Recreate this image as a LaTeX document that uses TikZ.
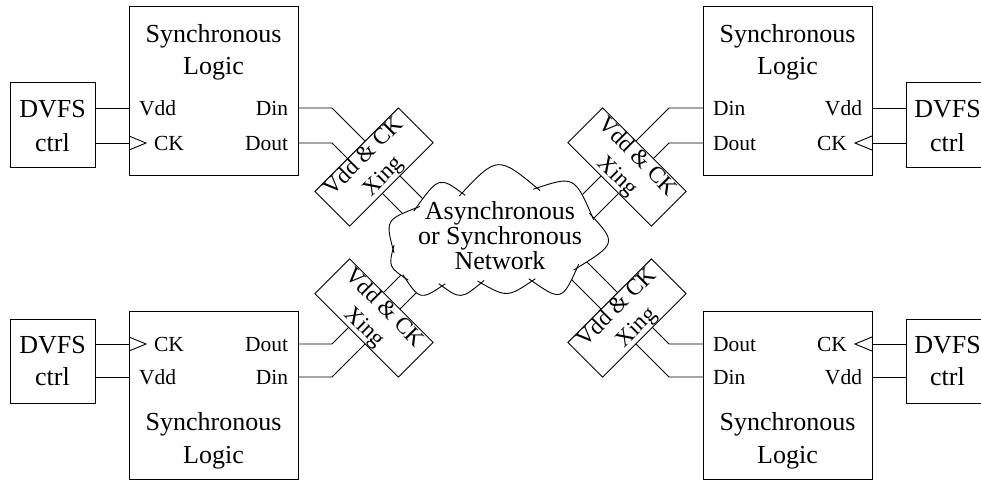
\documentclass[tikz,border=0pt]{standalone}
\usepackage{fontspec}
\setmainfont{Liberation Serif}
\usetikzlibrary{calc}

\newcommand\xinglabel{\fontsize{23}{28}\selectfont
  \begin{tabular}{@{}c@{}}Vdd \& CK\\Xing\end{tabular}}

\begin{document}
\begin{tikzpicture}[x=1pt,y=-1pt,line width=0.9pt,
  every node/.style={inner sep=0pt,outer sep=0pt},
  bigtxt/.style={font=\fontsize{26}{30}\selectfont},
  porttxt/.style={font=\fontsize{21.5}{26}\selectfont},
  logic/.style={draw,minimum width=169pt,minimum height=169pt},
  dvfs/.style={draw,minimum width=85pt,minimum height=85pt},
  xing/.style={draw,fill=white,minimum width=118pt,minimum height=49pt,
    inner ysep=-5pt},
  puffline/.style={shorten <=-4pt,shorten >=-4pt}]

\useasboundingbox (0,0) rectangle (981,480);
\clip (0,0) rectangle (981,480);

% ---------- blocks ----------
\node[logic] (L1) at (213.5,90.5) {};
\node[logic] (L2) at (787.5,90.5) {};
\node[logic,minimum height=168pt] (L3) at (213.5,395) {};
\node[logic,minimum height=168pt] (L4) at (787.5,395) {};

\node[dvfs] (D1) at (52.5,124.5) {};
\node[dvfs] (D2) at (948.5,124.5) {};
\node[dvfs,minimum height=84pt] (D3) at (52.5,361) {};
\node[dvfs,minimum height=84pt] (D4) at (948.5,361) {};

% ---------- ports ----------
\coordinate (L1vdd) at (129,108);  \coordinate (L1ck) at (129,143);
\coordinate (L1din) at (298,108);  \coordinate (L1dout) at (298,143);
\coordinate (L2vdd) at (872,108);  \coordinate (L2ck) at (872,143);
\coordinate (L2din) at (703,108);  \coordinate (L2dout) at (703,143);
\coordinate (L3ck) at (129,344);   \coordinate (L3vdd) at (129,377);
\coordinate (L3dout) at (298,344); \coordinate (L3din) at (298,377);
\coordinate (L4ck) at (872,344);   \coordinate (L4vdd) at (872,377);
\coordinate (L4dout) at (703,344); \coordinate (L4din) at (703,377);

% DVFS controller to logic block
\foreach \d/\l in {D1/L1,D3/L3}{
  \draw (\d.east |- \l vdd) -- (\l vdd);
  \draw (\d.east |- \l ck) -- (\l ck);
  \draw ($(\l ck)+(0,-7)$) -- ($(\l ck)+(17,0)$) -- ($(\l ck)+(0,7)$);
}
\foreach \d/\l in {D2/L2,D4/L4}{
  \draw (\d.west |- \l vdd) -- (\l vdd);
  \draw (\d.west |- \l ck) -- (\l ck);
  \draw ($(\l ck)+(0,-7)$) -- ($(\l ck)+(-17,0)$) -- ($(\l ck)+(0,7)$);
}

% ---------- data wires through the crossing blocks ----------
\coordinate (B1din) at (332,108);  \coordinate (E1din) at (426,202);
\coordinate (B1dout) at (332,143); \coordinate (E1dout) at (404,215);
\coordinate (B2din) at (669,108);  \coordinate (E2din) at (579,198);
\coordinate (B2dout) at (669,143); \coordinate (E2dout) at (584,228);
\coordinate (B3dout) at (332,344); \coordinate (E3dout) at (406,270);
\coordinate (B3din) at (332,377);  \coordinate (E3din) at (424,285);
\coordinate (B4dout) at (669,344); \coordinate (E4dout) at (579,254);
\coordinate (B4din) at (669,377);  \coordinate (E4din) at (569,277);

\foreach \n in {1,2,3,4}{
  \draw (L\n din) -- (B\n din) -- (E\n din);
  \draw (L\n dout) -- (B\n dout) -- (E\n dout);
}

\node[xing,rotate=45]  (X1) at (374,167) {\xinglabel};
\node[xing,rotate=-45] (X2) at (627,167) {\xinglabel};
\node[xing,rotate=-45] (X3) at (374,318) {\xinglabel};
\node[xing,rotate=45]  (X4) at (627,318) {\xinglabel};

% ---------- network cloud ----------
\coordinate (c1) at (416,208);  \coordinate (m1) at (439,182);
\coordinate (c2) at (462,193);  \coordinate (m2) at (498,164);
\coordinate (c3) at (537,188);  \coordinate (m3) at (572,182);
\coordinate (c4) at (592,216);  \coordinate (m4) at (609,243);
\coordinate (c5) at (577,268);  \coordinate (m5) at (560,295);
\coordinate (c6) at (532,281);  \coordinate (m6) at (507,294);
\coordinate (c7) at (481,283);  \coordinate (m7) at (461,296);
\coordinate (c8) at (442,286);  \coordinate (m8) at (421,296);
\coordinate (c9) at (405,278);  \coordinate (m9) at (391,266);
\coordinate (c10) at (393,249); \coordinate (m10) at (390,222);
\def\pufflist{c1/m1/c2,c2/m2/c3,c3/m3/c4,c4/m4/c5,c5/m5/c6,
  c6/m6/c7,c7/m7/c8,c8/m8/c9,c9/m9/c10,c10/m10/c1}

\fill[white] (c1) \foreach \a/\m/\b in \pufflist {
  .. controls ($1.3333*(\m)-0.16667*(\a)-0.16667*(\b)$) .. (\b) } -- cycle;
\foreach \a/\m/\b in \pufflist {
  \draw[puffline] (\a) .. controls ($1.3333*(\m)-0.16667*(\a)-0.16667*(\b)$) .. (\b);
}

% ---------- texts ----------
\node[bigtxt,anchor=base] (net1) at (500,219) {Asynchronous};
\node[bigtxt,anchor=base] (net2) at (500,244) {or Synchronous};
\node[bigtxt,anchor=base] (net3) at (500,269) {Network};

\node[bigtxt,anchor=base] (t1a) at (213.5,42) {Synchronous};
\node[bigtxt,anchor=base] (t1b) at (213.5,74.5) {Logic};
\node[bigtxt,anchor=base] (t2a) at (787.5,42) {Synchronous};
\node[bigtxt,anchor=base] (t2b) at (787.5,74.5) {Logic};
\node[bigtxt,anchor=base] (t3a) at (213.5,430.5) {Synchronous};
\node[bigtxt,anchor=base] (t3b) at (213.5,463.5) {Logic};
\node[bigtxt,anchor=base] (t4a) at (787.5,430.5) {Synchronous};
\node[bigtxt,anchor=base] (t4b) at (787.5,463.5) {Logic};

\node[bigtxt,anchor=base] (d1a) at (52.5,117) {DVFS};
\node[bigtxt,anchor=base] (d1b) at (52.5,151) {ctrl};
\node[bigtxt,anchor=base] (d2a) at (947.5,117) {DVFS};
\node[bigtxt,anchor=base] (d2b) at (947.5,151) {ctrl};
\node[bigtxt,anchor=base] (d3a) at (52.5,353) {DVFS};
\node[bigtxt,anchor=base] (d3b) at (52.5,385) {ctrl};
\node[bigtxt,anchor=base] (d4a) at (947.5,353) {DVFS};
\node[bigtxt,anchor=base] (d4b) at (947.5,385) {ctrl};

\node[porttxt,anchor=base west] (p1a) at (139,115.5) {Vdd};
\node[porttxt,anchor=base west] (p1b) at (154,150.5) {CK};
\node[porttxt,anchor=base east] (p1c) at (288,115.5) {Din};
\node[porttxt,anchor=base east] (p1d) at (288,150.5) {Dout};

\node[porttxt,anchor=base west] (p2a) at (713,115.5) {Din};
\node[porttxt,anchor=base west] (p2b) at (713,150.5) {Dout};
\node[porttxt,anchor=base east] (p2c) at (862,115.5) {Vdd};
\node[porttxt,anchor=base east] (p2d) at (847,150.5) {CK};

\node[porttxt,anchor=base west] (p3a) at (154,351.5) {CK};
\node[porttxt,anchor=base west] (p3b) at (139,384.5) {Vdd};
\node[porttxt,anchor=base east] (p3c) at (288,351.5) {Dout};
\node[porttxt,anchor=base east] (p3d) at (288,384.5) {Din};

\node[porttxt,anchor=base west] (p4a) at (713,351.5) {Dout};
\node[porttxt,anchor=base west] (p4b) at (713,384.5) {Din};
\node[porttxt,anchor=base east] (p4c) at (847,351.5) {CK};
\node[porttxt,anchor=base east] (p4d) at (862,384.5) {Vdd};
\end{tikzpicture}
\end{document}
